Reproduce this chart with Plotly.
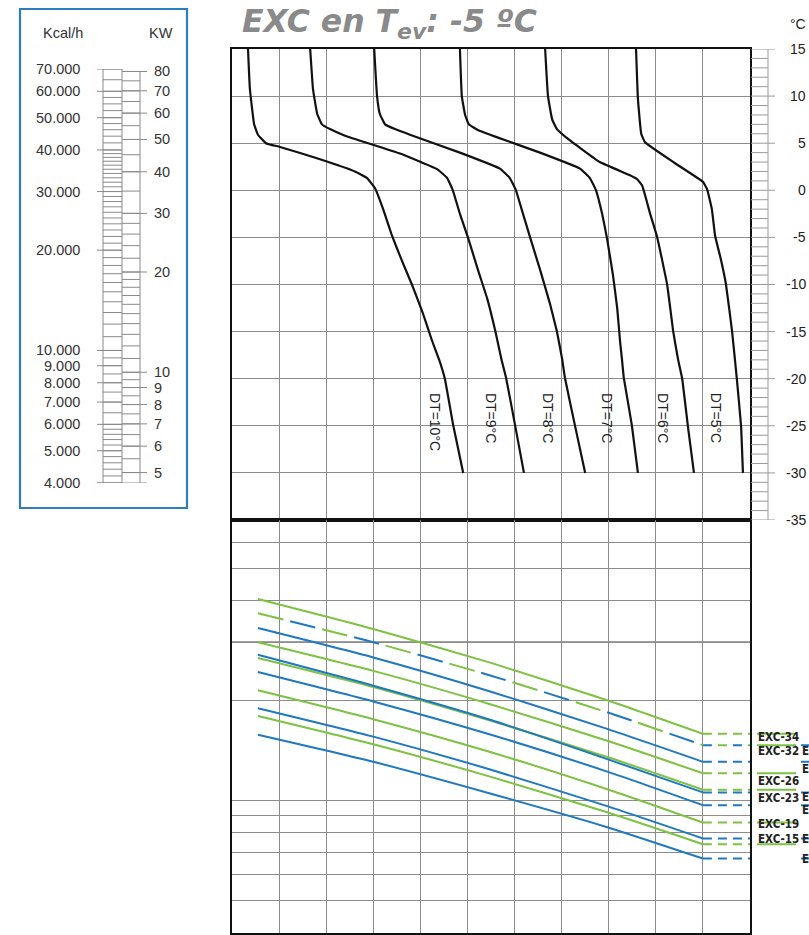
import math
import plotly.graph_objects as go

W, H = 809, 935

# ---------------- data ----------------
TITLE = "<b><i>EXC en T<sub>ev</sub>: -5 ºC</i></b>"

T_TICKS = [15, 10, 5, 0, -5, -10, -15, -20, -25, -30, -35]
T_TICK_LABELS = ["15", "10", "5", "0", "-5", "-10", "-15", "-20", "-25", "-30", "-35"]

DT_NAMES = ["DT=10°C", "DT=9°C", "DT=8°C", "DT=7°C", "DT=6°C", "DT=5°C"]
DT10_X = [0.34, 0.38, 0.47, 0.55, 0.72, 1.02, 1.87, 2.61, 2.87, 3.04, 3.21, 3.40, 3.61, 3.82, 4.05, 4.25, 4.40, 4.52, 4.70, 4.91]
DT10_T = [15, 10.75, 7.0, 5.9, 5.0, 4.6, 3.3, 2.0, 1.3, 0.2, -2.0, -4.85, -7.5, -10.0, -13.0, -16.0, -18.0, -20.0, -25.0, -30]
DT9_X = [1.66, 1.72, 1.81, 1.91, 2.08, 2.40, 3.57, 4.37, 4.57, 4.69, 4.84, 5.01, 5.22, 5.42, 5.59, 5.72, 5.82, 6.01, 6.20]
DT9_T = [15, 10.75, 8.1, 7.0, 6.5, 5.8, 3.9, 2.2, 1.3, 0.0, -2.5, -5.0, -8.4, -11.5, -14.9, -17.9, -19.9, -24.9, -30]
DT8_X = [3.02, 3.08, 3.14, 3.25, 3.46, 3.78, 4.84, 5.69, 5.90, 6.03, 6.18, 6.33, 6.54, 6.75, 6.90, 7.01, 7.07, 7.28, 7.50]
DT8_T = [15, 10, 8.1, 7.0, 6.5, 5.9, 4.0, 2.3, 1.3, 0.0, -2.5, -5.0, -8.4, -12.0, -15.0, -17.9, -19.9, -24.9, -30]
DT7_X = [4.84, 4.88, 4.95, 5.03, 5.22, 5.59, 6.54, 7.39, 7.60, 7.73, 7.86, 7.96, 8.09, 8.18, 8.24, 8.28, 8.32, 8.49, 8.62]
DT7_T = [15, 10, 8.0, 7.0, 6.4, 5.7, 4.0, 2.3, 1.3, 0.0, -2.5, -5.0, -9.0, -12.5, -16.0, -17.9, -19.9, -24.9, -30]
DT6_X = [6.65, 6.71, 6.80, 6.90, 7.10, 7.81, 8.45, 8.60, 8.71, 8.88, 9.03, 9.24, 9.37, 9.47, 9.56, 9.68, 9.81]
DT6_T = [15, 10, 7.5, 6.5, 5.6, 3.0, 1.6, 1.2, 0.5, -2.5, -5.0, -10.0, -15.0, -17.9, -20.0, -25.0, -30]
DT5_X = [8.58, 8.62, 8.69, 8.77, 9.40, 10.0, 10.09, 10.19, 10.26, 10.38, 10.49, 10.62, 10.72, 10.81, 10.85]
DT5_T = [15, 9.7, 6.0, 5.1, 2.9, 0.9, 0.1, -2.0, -4.85, -7.3, -10.0, -15.0, -20.0, -25.0, -30]
DT_CURVES = [(DT10_X, DT10_T), (DT9_X, DT9_T), (DT8_X, DT8_T),
             (DT7_X, DT7_T), (DT6_X, DT6_T), (DT5_X, DT5_T)]
DT_LABEL_X = [4.31, 5.50, 6.71, 7.96, 9.15, 10.28]
DT_LABEL_T = -21.3

# capacity (kcal/h) lines, bottom panel
CAP_X = [0.55, 3.0, 5.5, 8.0, 10.0]
CAP_X_END = 11.0
EXC34 = [40500, 32900, 26000, 20000, 15900]
EXC32 = [36700, 30000, 23800, 18400, 14700]
EXC30 = [36700, 30000, 23800, 18400, 14700]
EXC28 = [33100, 27000, 21300, 16400, 13100]
EXC26 = [30000, 24600, 19500, 15100, 12100]
EXC24 = [27500, 22200, 17500, 13300, 10600]
EXC23 = [26900, 22000, 17400, 13500, 10800]
EXC21 = [24400, 19900, 15800, 12200, 9700]
EXC19 = [21500, 17600, 14000, 10800, 8600]
EXC17 = [19000, 15600, 12400, 9600, 7700]
EXC15 = [18000, 14800, 11800, 9200, 7400]
EXC13 = [15800, 13100, 10500, 8300, 6700]

GREEN_SERIES = [("EXC-34", EXC34), ("EXC-32", EXC32), ("EXC-26", EXC26),
                ("EXC-23", EXC23), ("EXC-19", EXC19), ("EXC-15", EXC15)]
BLUE_SERIES = [("EXC-30", EXC30), ("EXC-28", EXC28), ("EXC-24", EXC24),
               ("EXC-21", EXC21), ("EXC-17", EXC17), ("EXC-13", EXC13)]
SHARED_DASHED = ("EXC-32", "EXC-30")  # drawn as alternating green/blue dashes

CAP_GRID = [4000, 5000, 6000, 7000, 8000, 9000, 10000, 20000, 30000, 40000, 50000, 60000, 70000]
CAP_RANGE = [4000, 70000]

# side scale (kcal/h and kW)
KCAL_MAJOR = [70000, 60000, 50000, 40000, 30000, 20000, 10000, 9000, 8000, 7000, 6000, 5000, 4000]
KCAL_LABELS = ["70.000", "60.000", "50.000", "40.000", "30.000", "20.000", "10.000",
               "9.000", "8.000", "7.000", "6.000", "5.000", "4.000"]
KCAL_MINOR = ([4000 + 200 * i for i in range(10)] + [6000 + 500 * i for i in range(8)]
              + [10000 + 1000 * i for i in range(30)] + [40000 + 2000 * i for i in range(5)]
              + [50000 + 2500 * i for i in range(4)] + [60000, 65000, 70000])
KW_MAJOR = [80, 70, 60, 50, 40, 30, 20, 10, 9, 8, 7, 6, 5]
KW_MINOR = ([5 + 0.5 * i for i in range(10)] + [10 + i for i in range(10)]
            + [20 + 2 * i for i in range(5)] + [30 + 5 * i for i in range(11)])
KCAL_PER_KW = 860.0

GREEN = "#7dc242"
BLUE = "#1f78c1"
GRID = "#8c8c8c"

# label vertical offsets (px, positive = down) relative to each line's end level
LABEL_DROP = {"EXC-34": 3, "EXC-32": 6, "EXC-26": 8, "EXC-23": 8, "EXC-19": 1, "EXC-15": -5,
              "EXC-30": 6, "EXC-28": 7, "EXC-24": 5, "EXC-21": 5, "EXC-17": 0, "EXC-13": 0}

# ---------------- layout helpers ----------------
PX_L, PX_R = 232, 750
PY_TOP, PY_MID, PY_BOT = 49, 520, 933


def fx(px):
    return px / W


def fy(py):
    return 1 - py / H


fig = go.Figure()

# top panel curves
for (xs, ts) in DT_CURVES:
    fig.add_trace(go.Scatter(x=xs, y=ts, mode="lines", xaxis="x", yaxis="y",
                             line=dict(color="#111111", width=2.2, shape="spline", smoothing=0.3),
                             hoverinfo="skip", showlegend=False))

# bottom panel lines
shared = set(SHARED_DASHED)
green_names = {n for n, _ in GREEN_SERIES}
for name, vals in GREEN_SERIES + BLUE_SERIES:
    if name in shared:
        continue
    color = GREEN if name in green_names else BLUE
    fig.add_trace(go.Scatter(x=CAP_X, y=vals, mode="lines", xaxis="x2", yaxis="y2",
                             line=dict(color=color, width=2, shape="spline", smoothing=0.6),
                             hoverinfo="skip", showlegend=False))
    fig.add_trace(go.Scatter(x=[CAP_X[-1], CAP_X_END], y=[vals[-1], vals[-1]], mode="lines",
                             xaxis="x2", yaxis="y2",
                             line=dict(color=color, width=2, dash="9px,6px"),
                             hoverinfo="skip", showlegend=False))

# alternating dashed shared line
g_vals = dict(GREEN_SERIES)[SHARED_DASHED[0]]
b_vals = dict(BLUE_SERIES)[SHARED_DASHED[1]]
fig.add_trace(go.Scatter(x=CAP_X, y=g_vals, mode="lines", xaxis="x2", yaxis="y2",
                         line=dict(color=GREEN, width=2, shape="spline", smoothing=0.6, dash="26px,40px"),
                         hoverinfo="skip", showlegend=False))
fig.add_trace(go.Scatter(x=CAP_X, y=b_vals, mode="lines", xaxis="x2", yaxis="y2",
                         line=dict(color=BLUE, width=2, shape="spline", smoothing=0.6, dash="0px,33px,26px,7px"),
                         hoverinfo="skip", showlegend=False))
fig.add_trace(go.Scatter(x=[CAP_X[-1], CAP_X_END], y=[b_vals[-1]] * 2, mode="lines", xaxis="x2", yaxis="y2",
                         line=dict(color=BLUE, width=2, dash="9px,21px"), hoverinfo="skip", showlegend=False))
fig.add_trace(go.Scatter(x=[CAP_X[-1], CAP_X_END], y=[g_vals[-1]] * 2, mode="lines", xaxis="x2", yaxis="y2",
                         line=dict(color=GREEN, width=2, dash="0px,15px,9px,6px"), hoverinfo="skip",
                         showlegend=False))

# invisible trace for side-scale subplot
fig.add_trace(go.Scatter(x=[0], y=[10000], xaxis="x3", yaxis="y3", mode="markers",
                         marker=dict(opacity=0), hoverinfo="skip", showlegend=False))

shapes = []
annotations = []

# dark 30000 line in bottom panel
shapes.append(dict(type="line", xref="x2", yref="y2", x0=0, x1=11, y0=30000, y1=30000,
                   line=dict(color="#444444", width=1.3), layer="below"))

# right temperature ladder
for t in range(-35, 16):
    major = (t % 5 == 0)
    shapes.append(dict(type="line", xref="paper", yref="y", x0=fx(751), x1=fx(775 if major else 768),
                       y0=t, y1=t, line=dict(color="#9a9a9a", width=1)))
shapes.append(dict(type="line", xref="paper", yref="y", x0=fx(768), x1=fx(768), y0=-35, y1=15,
                   line=dict(color="#9a9a9a", width=1)))
AX_FONT = dict(family="Liberation Sans, Arial", size=14, color="#222")
for t, lab in zip(T_TICKS, T_TICK_LABELS):
    annotations.append(dict(x=fx(808), y=t, xref="paper", yref="y", text=lab, showarrow=False,
                            xanchor="right", yanchor="middle", font=AX_FONT))
annotations.append(dict(x=fx(808), y=fy(24), xref="paper", yref="paper", text="°C", showarrow=False,
                        xanchor="right", yanchor="middle", font=AX_FONT))

# DT labels
for name, lx in zip(DT_NAMES, DT_LABEL_X):
    annotations.append(dict(x=lx, y=DT_LABEL_T, xref="x", yref="y", text=name, showarrow=False,
                            textangle=90, xanchor="center", yanchor="top", font=AX_FONT))

# right side series labels
LBL_FONT = dict(family="Liberation Sans Narrow, Arial Narrow, DejaVu Sans Condensed, Liberation Sans, Arial",
                size=11.5, color="#222")
for name, vals in GREEN_SERIES:
    d = LABEL_DROP[name]
    annotations.append(dict(x=fx(756), y=math.log10(vals[-1]), xref="paper", yref="y2",
                            text="<b>%s</b>" % name, showarrow=False, xanchor="left", yanchor="middle",
                            yshift=-d, font=LBL_FONT))
    shapes.append(dict(type="line", xref="paper", yref="y2", x0=fx(757), x1=fx(796),
                       ysizemode="pixel", yanchor=vals[-1], y0=-d - 7, y1=-d - 7,
                       line=dict(color=GREEN, width=2)))
for name, vals in BLUE_SERIES:
    d = LABEL_DROP[name]
    annotations.append(dict(x=fx(800), y=math.log10(vals[-1]), xref="paper", yref="y2",
                            text="<b>%s</b>" % name, showarrow=False, xanchor="left", yanchor="middle",
                            yshift=-d, font=LBL_FONT))
    shapes.append(dict(type="line", xref="paper", yref="y2", x0=fx(801), x1=fx(841),
                       ysizemode="pixel", yanchor=vals[-1], y0=-d - 7, y1=-d - 7,
                       line=dict(color=BLUE, width=2)))

# side scale box
shapes.append(dict(type="rect", xref="paper", yref="paper", x0=fx(20), x1=fx(187), y0=fy(508), y1=fy(9),
                   line=dict(color="#2d7dbf", width=2.2)))
SC = dict(color="#8a8a8a", width=1)
kw_top = KW_MAJOR[0] * KCAL_PER_KW
shapes.append(dict(type="line", xref="x3", yref="y3", x0=103, x1=103, y0=CAP_RANGE[0], y1=KCAL_MAJOR[0], line=SC))
shapes.append(dict(type="line", xref="x3", yref="y3", x0=122, x1=122, y0=CAP_RANGE[0], y1=KCAL_MAJOR[0], line=SC))
shapes.append(dict(type="line", xref="x3", yref="y3", x0=140, x1=140, y0=CAP_RANGE[0], y1=kw_top, line=SC))
for v in KCAL_MINOR:
    shapes.append(dict(type="line", xref="x3", yref="y3", x0=103, x1=122, y0=v, y1=v, line=SC))
for v in KW_MINOR:
    shapes.append(dict(type="line", xref="x3", yref="y3", x0=122, x1=140, y0=v * KCAL_PER_KW,
                       y1=v * KCAL_PER_KW, line=SC))
shapes.append(dict(type="line", xref="x3", yref="y3", x0=97, x1=147, y0=CAP_RANGE[0], y1=CAP_RANGE[0], line=SC))
SIDE_FONT = dict(family="Liberation Sans, Arial", size=14.5, color="#333")
for v, lab in zip(KCAL_MAJOR, KCAL_LABELS):
    shapes.append(dict(type="line", xref="x3", yref="y3", x0=97, x1=122, y0=v, y1=v, line=SC))
    annotations.append(dict(x=82, y=math.log10(v), xref="x3", yref="y3", text=lab, showarrow=False,
                            xanchor="right", yanchor="middle", font=SIDE_FONT))
for v in KW_MAJOR:
    shapes.append(dict(type="line", xref="x3", yref="y3", x0=122, x1=147, y0=v * KCAL_PER_KW,
                       y1=v * KCAL_PER_KW, line=SC))
    annotations.append(dict(x=152, y=math.log10(v * KCAL_PER_KW), xref="x3", yref="y3", text=str(v),
                            showarrow=False, xanchor="left", yanchor="middle", font=SIDE_FONT))
annotations.append(dict(x=fx(63), y=fy(33), xref="paper", yref="paper", text="Kcal/h", showarrow=False,
                        xanchor="center", yanchor="middle", font=SIDE_FONT))
annotations.append(dict(x=fx(161), y=fy(33), xref="paper", yref="paper", text="KW", showarrow=False,
                        xanchor="center", yanchor="middle", font=SIDE_FONT))

# title
annotations.append(dict(x=fx(240), y=fy(24), xref="paper", yref="paper", text=TITLE, showarrow=False,
                        xanchor="left", yanchor="middle",
                        font=dict(family="DejaVu Sans, Verdana", size=31.5, color="#8a8a8a")))

frame = dict(showline=True, mirror=True, linecolor="#111111", linewidth=2, zeroline=False,
             showticklabels=False, ticks="")
fig.update_layout(
    width=W, height=H, margin=dict(l=0, r=0, t=0, b=0),
    paper_bgcolor="white", plot_bgcolor="rgba(0,0,0,0)", showlegend=False,
    xaxis=dict(domain=[fx(PX_L), fx(PX_R)], range=[0, 11], dtick=1, tick0=0, showgrid=True,
               gridcolor=GRID, gridwidth=1, anchor="y", **frame),
    yaxis=dict(domain=[fy(PY_MID), fy(PY_TOP)], range=[-35, 15], dtick=5, tick0=0, showgrid=True,
               gridcolor=GRID, gridwidth=1, anchor="x", **frame),
    xaxis2=dict(domain=[fx(PX_L), fx(PX_R)], range=[0, 11], dtick=1, tick0=0, showgrid=True,
                gridcolor=GRID, gridwidth=1, anchor="y2", **frame),
    yaxis2=dict(domain=[fy(PY_BOT), fy(PY_MID)], type="log",
                range=[math.log10(CAP_RANGE[0]), math.log10(CAP_RANGE[1])],
                tickvals=CAP_GRID, showgrid=True, gridcolor=GRID, gridwidth=1, anchor="x2", **frame),
    xaxis3=dict(domain=[0, fx(200)], range=[0, 200], visible=False, anchor="y3"),
    yaxis3=dict(domain=[fy(483), fy(69)], type="log",
                range=[math.log10(CAP_RANGE[0]), math.log10(CAP_RANGE[1])], visible=False, anchor="x3"),
    shapes=shapes, annotations=annotations,
)

fig.write_html("out.html", config={"displayModeBar": False, "staticPlot": True},
               post_script="document.body.style.margin='0';document.body.style.overflow='hidden';")
